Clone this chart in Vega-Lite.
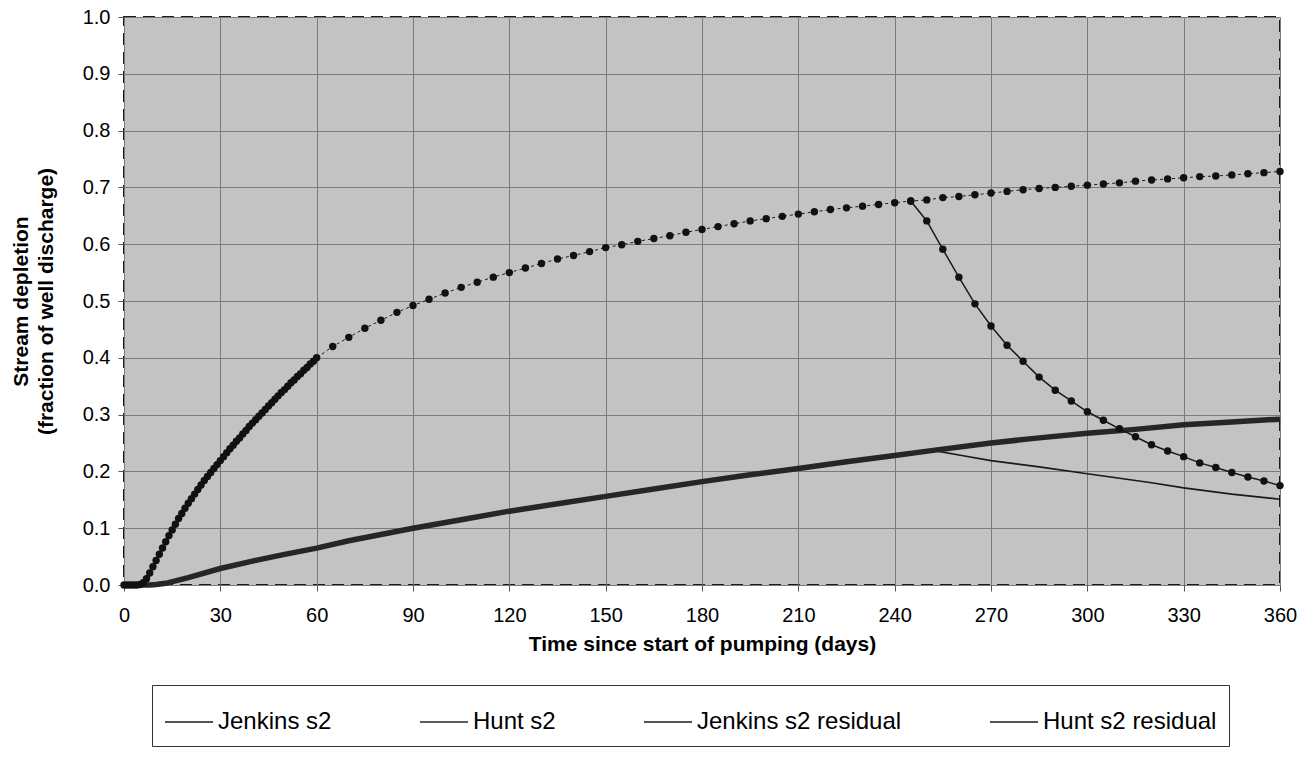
{
 "$schema": "https://vega.github.io/schema/vega-lite/v6.json",
 "width": 1156, "height": 568,
 "autosize": {"type": "none"},
 "padding": {"left": 124, "top": 17, "right": 24, "bottom": 186},
 "background": "white",
 "title": {"text": "C-17 188, Well 2 & Alder Creek", "fontSize": 16, "font": "Liberation Sans", "fontWeight": "bold", "frame": "group", "baseline": "bottom", "offset": 1, "anchor": "middle", "color": "#000"},
 "config": {
  "view": {"fill": "#c3c3c3", "stroke": "#1a1a1a", "strokeWidth": 2, "strokeDash": [12, 7]},
  "line": {"strokeWidth": 1.6},
  "axis": {"grid": true, "gridColor": "#7a7a7a", "gridWidth": 1, "domain": false, "tickSize": 6, "tickColor": "#555", "labelFont": "Liberation Sans", "labelFontSize": 20, "labelColor": "#000", "titleFont": "Liberation Sans", "titleFontSize": 21, "titleFontWeight": "bold", "titleColor": "#000", "labelFlush": false}
 },
 "data": {"values": [
  {"series":"Jenkins s2","day":0,"value":0},{"series":"Jenkins s2","day":1,"value":0},{"series":"Jenkins s2","day":2,"value":0},{"series":"Jenkins s2","day":3,"value":0},{"series":"Jenkins s2","day":4,"value":0},{"series":"Jenkins s2","day":5,"value":0.001},{"series":"Jenkins s2","day":6,"value":0.004},{"series":"Jenkins s2","day":7,"value":0.011},{"series":"Jenkins s2","day":8,"value":0.021},{"series":"Jenkins s2","day":9,"value":0.032},{"series":"Jenkins s2","day":10,"value":0.043},{"series":"Jenkins s2","day":11,"value":0.054},{"series":"Jenkins s2","day":12,"value":0.065},{"series":"Jenkins s2","day":13,"value":0.076},{"series":"Jenkins s2","day":14,"value":0.087},{"series":"Jenkins s2","day":15,"value":0.097},{"series":"Jenkins s2","day":16,"value":0.107},{"series":"Jenkins s2","day":17,"value":0.117},{"series":"Jenkins s2","day":18,"value":0.126},{"series":"Jenkins s2","day":19,"value":0.135},{"series":"Jenkins s2","day":20,"value":0.144},{"series":"Jenkins s2","day":21,"value":0.152},{"series":"Jenkins s2","day":22,"value":0.160},{"series":"Jenkins s2","day":23,"value":0.168},{"series":"Jenkins s2","day":24,"value":0.176},{"series":"Jenkins s2","day":25,"value":0.184},{"series":"Jenkins s2","day":26,"value":0.191},{"series":"Jenkins s2","day":27,"value":0.198},{"series":"Jenkins s2","day":28,"value":0.205},{"series":"Jenkins s2","day":29,"value":0.212},{"series":"Jenkins s2","day":30,"value":0.219},{"series":"Jenkins s2","day":31,"value":0.226},{"series":"Jenkins s2","day":32,"value":0.233},{"series":"Jenkins s2","day":33,"value":0.240},{"series":"Jenkins s2","day":34,"value":0.246},{"series":"Jenkins s2","day":35,"value":0.253},{"series":"Jenkins s2","day":36,"value":0.259},{"series":"Jenkins s2","day":37,"value":0.266},{"series":"Jenkins s2","day":38,"value":0.272},{"series":"Jenkins s2","day":39,"value":0.279},{"series":"Jenkins s2","day":40,"value":0.285},{"series":"Jenkins s2","day":41,"value":0.291},{"series":"Jenkins s2","day":42,"value":0.297},{"series":"Jenkins s2","day":43,"value":0.303},{"series":"Jenkins s2","day":44,"value":0.309},{"series":"Jenkins s2","day":45,"value":0.315},{"series":"Jenkins s2","day":46,"value":0.321},{"series":"Jenkins s2","day":47,"value":0.327},{"series":"Jenkins s2","day":48,"value":0.333},{"series":"Jenkins s2","day":49,"value":0.339},{"series":"Jenkins s2","day":50,"value":0.344},{"series":"Jenkins s2","day":51,"value":0.350},{"series":"Jenkins s2","day":52,"value":0.356},{"series":"Jenkins s2","day":53,"value":0.361},{"series":"Jenkins s2","day":54,"value":0.367},{"series":"Jenkins s2","day":55,"value":0.372},{"series":"Jenkins s2","day":56,"value":0.378},{"series":"Jenkins s2","day":57,"value":0.383},{"series":"Jenkins s2","day":58,"value":0.389},{"series":"Jenkins s2","day":59,"value":0.394},{"series":"Jenkins s2","day":60,"value":0.400},
  {"series":"Jenkins s2","day":65,"value":0.420},{"series":"Jenkins s2","day":70,"value":0.436},{"series":"Jenkins s2","day":75,"value":0.452},{"series":"Jenkins s2","day":80,"value":0.466},{"series":"Jenkins s2","day":85,"value":0.480},{"series":"Jenkins s2","day":90,"value":0.492},{"series":"Jenkins s2","day":95,"value":0.503},{"series":"Jenkins s2","day":100,"value":0.514},{"series":"Jenkins s2","day":105,"value":0.524},{"series":"Jenkins s2","day":110,"value":0.533},{"series":"Jenkins s2","day":115,"value":0.542},{"series":"Jenkins s2","day":120,"value":0.550},{"series":"Jenkins s2","day":125,"value":0.558},{"series":"Jenkins s2","day":130,"value":0.566},{"series":"Jenkins s2","day":135,"value":0.574},{"series":"Jenkins s2","day":140,"value":0.580},{"series":"Jenkins s2","day":145,"value":0.587},{"series":"Jenkins s2","day":150,"value":0.594},{"series":"Jenkins s2","day":155,"value":0.599},{"series":"Jenkins s2","day":160,"value":0.605},{"series":"Jenkins s2","day":165,"value":0.610},{"series":"Jenkins s2","day":170,"value":0.615},{"series":"Jenkins s2","day":175,"value":0.621},{"series":"Jenkins s2","day":180,"value":0.626},{"series":"Jenkins s2","day":185,"value":0.631},{"series":"Jenkins s2","day":190,"value":0.636},{"series":"Jenkins s2","day":195,"value":0.641},{"series":"Jenkins s2","day":200,"value":0.645},{"series":"Jenkins s2","day":205,"value":0.649},{"series":"Jenkins s2","day":210,"value":0.653},{"series":"Jenkins s2","day":215,"value":0.657},{"series":"Jenkins s2","day":220,"value":0.661},{"series":"Jenkins s2","day":225,"value":0.664},{"series":"Jenkins s2","day":230,"value":0.667},{"series":"Jenkins s2","day":235,"value":0.670},{"series":"Jenkins s2","day":240,"value":0.673},{"series":"Jenkins s2","day":245,"value":0.676},{"series":"Jenkins s2","day":250,"value":0.678},{"series":"Jenkins s2","day":255,"value":0.682},{"series":"Jenkins s2","day":260,"value":0.684},{"series":"Jenkins s2","day":265,"value":0.687},{"series":"Jenkins s2","day":270,"value":0.690},{"series":"Jenkins s2","day":275,"value":0.693},{"series":"Jenkins s2","day":280,"value":0.696},{"series":"Jenkins s2","day":285,"value":0.698},{"series":"Jenkins s2","day":290,"value":0.700},{"series":"Jenkins s2","day":295,"value":0.702},{"series":"Jenkins s2","day":300,"value":0.704},{"series":"Jenkins s2","day":305,"value":0.706},{"series":"Jenkins s2","day":310,"value":0.708},{"series":"Jenkins s2","day":315,"value":0.711},{"series":"Jenkins s2","day":320,"value":0.713},{"series":"Jenkins s2","day":325,"value":0.715},{"series":"Jenkins s2","day":330,"value":0.717},{"series":"Jenkins s2","day":335,"value":0.719},{"series":"Jenkins s2","day":340,"value":0.720},{"series":"Jenkins s2","day":345,"value":0.722},{"series":"Jenkins s2","day":350,"value":0.724},{"series":"Jenkins s2","day":355,"value":0.726},{"series":"Jenkins s2","day":360,"value":0.728},
  {"series":"Hunt s2","day":0,"value":0},{"series":"Hunt s2","day":5,"value":0},{"series":"Hunt s2","day":8,"value":0},{"series":"Hunt s2","day":10,"value":0.001},{"series":"Hunt s2","day":13,"value":0.003},{"series":"Hunt s2","day":20,"value":0.013},{"series":"Hunt s2","day":30,"value":0.029},{"series":"Hunt s2","day":40,"value":0.042},{"series":"Hunt s2","day":50,"value":0.054},{"series":"Hunt s2","day":60,"value":0.065},{"series":"Hunt s2","day":70,"value":0.078},{"series":"Hunt s2","day":80,"value":0.089},{"series":"Hunt s2","day":90,"value":0.100},{"series":"Hunt s2","day":105,"value":0.115},{"series":"Hunt s2","day":120,"value":0.130},{"series":"Hunt s2","day":135,"value":0.143},{"series":"Hunt s2","day":150,"value":0.156},{"series":"Hunt s2","day":165,"value":0.169},{"series":"Hunt s2","day":180,"value":0.182},{"series":"Hunt s2","day":195,"value":0.194},{"series":"Hunt s2","day":210,"value":0.205},{"series":"Hunt s2","day":225,"value":0.217},{"series":"Hunt s2","day":240,"value":0.228},{"series":"Hunt s2","day":252,"value":0.237},{"series":"Hunt s2","day":270,"value":0.250},{"series":"Hunt s2","day":285,"value":0.259},{"series":"Hunt s2","day":300,"value":0.267},{"series":"Hunt s2","day":315,"value":0.274},{"series":"Hunt s2","day":330,"value":0.282},{"series":"Hunt s2","day":345,"value":0.287},{"series":"Hunt s2","day":360,"value":0.292},
  {"series":"Jenkins s2 residual","day":245,"value":0.676},{"series":"Jenkins s2 residual","day":250,"value":0.641},{"series":"Jenkins s2 residual","day":255,"value":0.591},{"series":"Jenkins s2 residual","day":260,"value":0.542},{"series":"Jenkins s2 residual","day":265,"value":0.495},{"series":"Jenkins s2 residual","day":270,"value":0.456},{"series":"Jenkins s2 residual","day":275,"value":0.422},{"series":"Jenkins s2 residual","day":280,"value":0.394},{"series":"Jenkins s2 residual","day":285,"value":0.366},{"series":"Jenkins s2 residual","day":290,"value":0.343},{"series":"Jenkins s2 residual","day":295,"value":0.324},{"series":"Jenkins s2 residual","day":300,"value":0.305},{"series":"Jenkins s2 residual","day":305,"value":0.290},{"series":"Jenkins s2 residual","day":310,"value":0.275},{"series":"Jenkins s2 residual","day":315,"value":0.261},{"series":"Jenkins s2 residual","day":320,"value":0.247},{"series":"Jenkins s2 residual","day":325,"value":0.236},{"series":"Jenkins s2 residual","day":330,"value":0.226},{"series":"Jenkins s2 residual","day":335,"value":0.215},{"series":"Jenkins s2 residual","day":340,"value":0.207},{"series":"Jenkins s2 residual","day":345,"value":0.198},{"series":"Jenkins s2 residual","day":350,"value":0.190},{"series":"Jenkins s2 residual","day":355,"value":0.183},{"series":"Jenkins s2 residual","day":360,"value":0.175},
  {"series":"Hunt s2 residual","day":252,"value":0.237},{"series":"Hunt s2 residual","day":260,"value":0.229},{"series":"Hunt s2 residual","day":270,"value":0.219},{"series":"Hunt s2 residual","day":285,"value":0.208},{"series":"Hunt s2 residual","day":300,"value":0.196},{"series":"Hunt s2 residual","day":310,"value":0.188},{"series":"Hunt s2 residual","day":320,"value":0.180},{"series":"Hunt s2 residual","day":330,"value":0.171},{"series":"Hunt s2 residual","day":345,"value":0.160},{"series":"Hunt s2 residual","day":360,"value":0.151}
 ]},
 "layer": [
  {"transform": [{"filter": "datum.series === 'Hunt s2 residual'"}], "mark": {"type": "line"},
   "encoding": {
    "x": {"field": "day", "type": "quantitative", "scale": {"domain": [0, 360], "nice": false},
          "axis": {"values": [0,30,60,90,120,150,180,210,240,270,300,330,360], "title": "Time since start of pumping (days)", "labelPadding": 14, "titlePadding": 8}},
    "y": {"field": "value", "type": "quantitative", "scale": {"domain": [0, 1], "nice": false},
          "axis": {"values": [0,0.1,0.2,0.3,0.4,0.5,0.6,0.7,0.8,0.9,1.0], "format": ".1f", "title": ["Stream depletion", "(fraction of well discharge)"], "labelPadding": 8, "titlePadding": 26, "titleLineHeight": 25}},
    "color": {"field": "series", "type": "nominal",
            "scale": {"domain": ["Jenkins s2", "Hunt s2", "Jenkins s2 residual", "Hunt s2 residual"], "range": ["#1a1a1a", "#262626", "#1a1a1a", "#1a1a1a"]},
            "legend": {"title": null, "orient": "none", "legendX": 28, "legendY": 668, "direction": "horizontal", "columns": 4, "columnPadding": 84, "padding": 12,
                       "fillColor": "#ffffff", "strokeColor": "#333333", "labelFont": "Liberation Sans", "labelFontSize": 24, "labelColor": "#000", "labelOffset": 4, "labelLimit": 0,
                       "symbolSize": 2304, "symbolType": "M-1,0L1,0", "symbolStrokeWidth": 1.5,
                       "encode": {"symbols": {"update": {
                         "shape": [{"test": "datum.value === 'Jenkins s2' || datum.value === 'Jenkins s2 residual'", "value": "M-1,0L1,0M0.12,0A0.12,0.12,0,1,1,-0.12,0A0.12,0.12,0,1,1,0.12,0Z"}, {"value": "M-1,0L1,0"}],
                         "strokeWidth": [{"test": "datum.value === 'Hunt s2'", "value": 5}, {"value": 1.5}],
                         "strokeDash": [{"test": "datum.value === 'Jenkins s2'", "value": [3, 3]}, {"value": [1, 0]}],
                         "fill": {"value": "#111111"},
                         "fillOpacity": {"value": 1},
                         "stroke": {"value": "#111111"},
                         "size": {"value": 2304}
                       }}}}}}},
  {"transform": [{"filter": "datum.series === 'Hunt s2'"}], "mark": {"type": "line", "strokeWidth": 5.5, "color": "#262626"},
   "encoding": {"x": {"field": "day", "type": "quantitative"}, "y": {"field": "value", "type": "quantitative"}}},
  {"transform": [{"filter": "datum.series === 'Jenkins s2'"}], "mark": {"type": "line", "strokeWidth": 1, "strokeDash": [3, 3], "color": "#1a1a1a"},
   "encoding": {"x": {"field": "day", "type": "quantitative"}, "y": {"field": "value", "type": "quantitative"}}},
  {"transform": [{"filter": "datum.series === 'Jenkins s2 residual'"}], "mark": {"type": "line", "strokeWidth": 1.5, "color": "#1a1a1a"},
   "encoding": {"x": {"field": "day", "type": "quantitative"}, "y": {"field": "value", "type": "quantitative"}}},
  {"transform": [{"filter": "datum.series === 'Jenkins s2' || datum.series === 'Jenkins s2 residual'"}], "mark": {"type": "point", "filled": true, "size": 55, "color": "#111111", "opacity": 1},
   "encoding": {"x": {"field": "day", "type": "quantitative"}, "y": {"field": "value", "type": "quantitative"}}}
 ]
}
